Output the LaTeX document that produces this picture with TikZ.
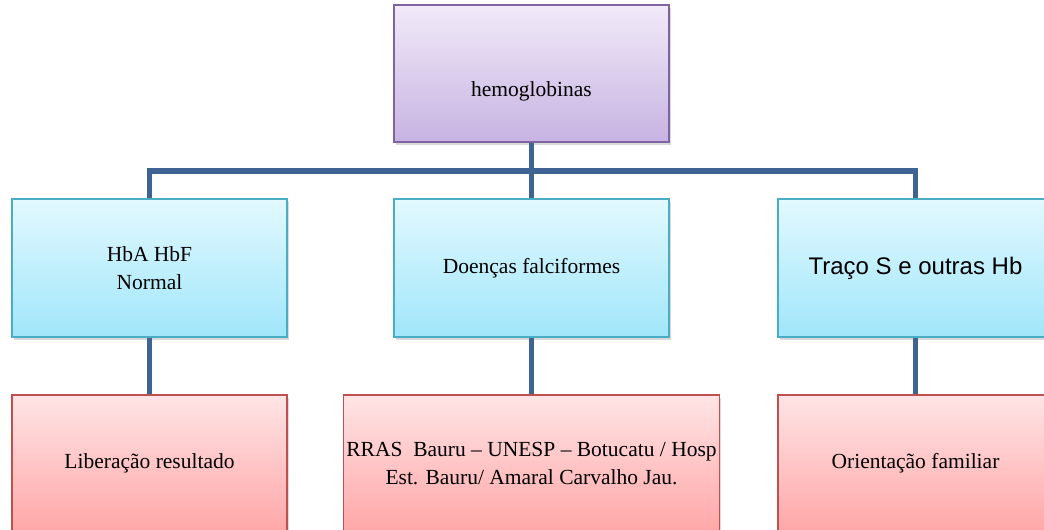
\documentclass[tikz,border=0pt]{standalone}
\usepackage{fontspec}
\setmainfont{Liberation Serif}
\newfontfamily\arialfont{Liberation Sans}
\usetikzlibrary{shadows}

\definecolor{lilacline}{HTML}{8064A2}
\definecolor{lilactop}{HTML}{F1EAF8}
\definecolor{lilacbot}{HTML}{C7B3E2}
\definecolor{aquaine}{HTML}{4BACC6}
\definecolor{aquatop}{HTML}{E2F9FF}
\definecolor{aquabot}{HTML}{A0E6FA}
\definecolor{roseline}{HTML}{C0504D}
\definecolor{rosetop}{HTML}{FFE4E5}
\definecolor{rosebot}{HTML}{FFA7A8}
\definecolor{linkblue}{HTML}{3E6494}

\begin{document}
\begin{tikzpicture}[x=1pt, y=-1pt,
  box/.style={line width=1.5pt, minimum width=275pt, minimum height=137pt,
    inner sep=0pt, align=center, font=\fontsize{21.5}{27.5}\selectfont,
    drop shadow={shadow xshift=1.5pt, shadow yshift=-2.5pt, opacity=0.3}},
  lilacbox/.style={box, draw=lilacline, top color=lilactop, bottom color=lilacbot},
  aquabox/.style={box, draw=aquaine, top color=aquatop, bottom color=aquabot, minimum height=138pt},
  rosebox/.style={box, draw=roseline, top color=rosetop, bottom color=rosebot},
  link/.style={draw=linkblue, line width=5.5pt}]
  \useasboundingbox (0,0) rectangle (1044,530);

  % top
  \node[lilacbox, text height=50pt, text depth=5pt] (hemo) at (531.5,73.5) {hemoglobinas};

  % second row
  \node[aquabox] (normal)  at (149.5,268) {HbA HbF\\Normal};
  \node[aquabox] (doencas) at (531.5,268) {Doenças falciformes};
  \node[aquabox, font=\arialfont\fontsize{24}{28}\selectfont] (traco) at (915.5,268) {Traço S e outras Hb};

  % third row
  \node[rosebox] (liberacao) at (149.5,463.5) {Liberação resultado};
  \node[rosebox, minimum width=376pt] (rras) at (531.5,463.5)
    {RRAS\ \ Bauru -- UNESP -- Botucatu / Hosp\\Est. Bauru/ Amaral Carvalho Jau.};
  \node[rosebox] (orient) at (915.5,463.5) {Orientação familiar};

  % connectors
  \coordinate (joint) at (531.5,171);
  \draw[link] (hemo.south) -- (doencas.north);
  \draw[link] (normal.north) |- (joint) -| (traco.north);
  \draw[link] (normal.south) -- (liberacao.north);
  \draw[link] (doencas.south) -- (rras.north);
  \draw[link] (traco.south) -- (orient.north);
\end{tikzpicture}
\end{document}
